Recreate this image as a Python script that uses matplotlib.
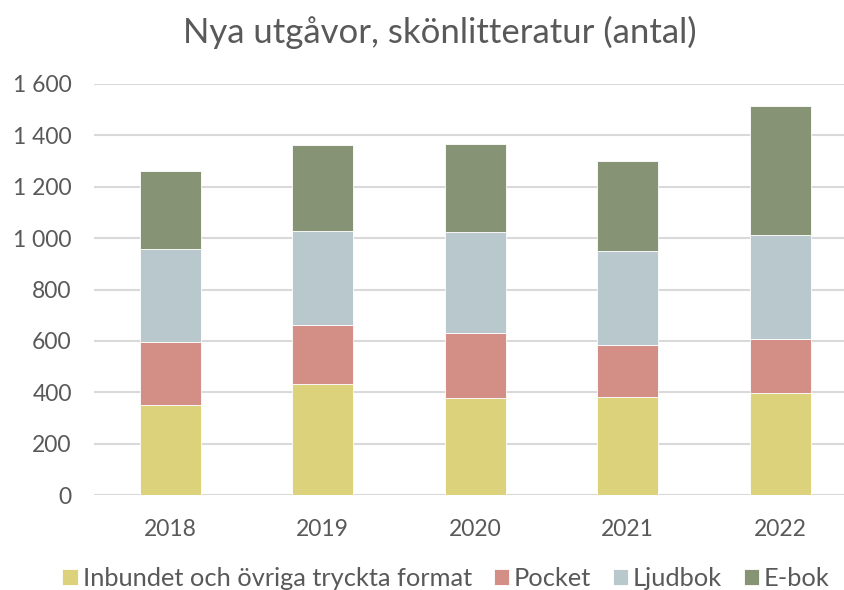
import numpy as np
import matplotlib
matplotlib.use("Agg")
import matplotlib.pyplot as plt

# data
years = ["2018", "2019", "2020", "2021", "2022"]
inbundet = [351, 432, 377, 382, 399]
pocket = [246, 230, 252, 200, 210]
ljudbok = [360, 365, 395, 366, 402]
ebok = [306, 337, 341, 351, 503]
series_names = ["Inbundet och övriga tryckta format", "Pocket", "Ljudbok", "E-bok"]
colors = ["#DBD27B", "#D38F86", "#B9C8CD", "#869374"]
yticks = [0, 200, 400, 600, 800, 1000, 1200, 1400, 1600]

plt.rcParams["font.family"] = ["Lato", "DejaVu Sans"]
txt = "#595959"

fig = plt.figure(figsize=(8.45, 5.9), dpi=100)
ax = fig.add_axes([94 / 845, 95 / 590, 762.5 / 845, 411 / 590])

x = np.arange(len(years))
bottom = np.zeros(len(years))
for vals, name, c in zip([inbundet, pocket, ljudbok, ebok], series_names, colors):
    ax.bar(x, vals, width=0.4, bottom=bottom, color=c, label=name,
           edgecolor="white", linewidth=0.6, zorder=3)
    bottom += np.array(vals)

ax.set_xlim(-0.5, len(years) - 0.5)
ax.set_ylim(0, 1600)
ax.set_yticks(yticks)
ax.set_yticklabels([f"{v:,}".replace(",", " ") for v in yticks])
ax.set_xticks(x)
ax.set_xticklabels(years)
ax.grid(axis="y", color="#D9D9D9", linewidth=1.5, zorder=0)
for s in ax.spines.values():
    s.set_visible(False)
ax.tick_params(axis="both", length=0, labelsize=16.5, colors=txt)
ax.tick_params(axis="x", pad=17)
ax.tick_params(axis="y", pad=16)

fig.text(0.521, 0.945, "Nya utgåvor, skönlitteratur (antal)", ha="center", va="center",
         fontsize=25, color=txt)

fig.legend(loc="center", bbox_to_anchor=(0.528, 0.02), ncol=4, frameon=False,
           fontsize=18.3, labelcolor=txt, handlelength=0.6, handleheight=0.6,
           handletextpad=0.2, columnspacing=0.85)

fig.savefig("out.png", dpi=100)
